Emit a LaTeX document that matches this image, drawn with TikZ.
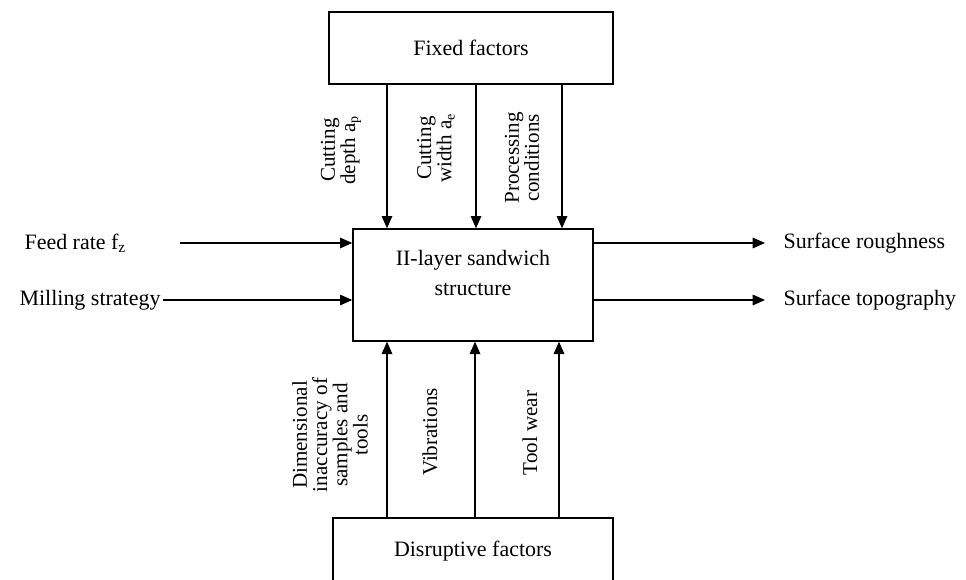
\documentclass[tikz,border=0pt]{standalone}
\usepackage{fontspec}
\setmainfont{Liberation Serif}
\usetikzlibrary{arrows.meta,positioning}

\begin{document}
\begin{tikzpicture}[
        x=0.02cm, y=-0.02cm,
        every node/.style={font=\fontsize{12.5}{17}\selectfont, align=center},
        every path/.style={line width=0.8pt},
        box/.style={draw, inner sep=0pt},
        vlabel/.style={rotate=90, font=\fontsize{12}{11.5}\selectfont},
        flow/.style={-{Triangle[length=7pt, width=6pt]}}
    ]
  \useasboundingbox (0,0) rectangle (966,579);

  % Nodes
  \node (fixed) [box, minimum width=5.68cm, minimum height=1.44cm] at (471,48) {Fixed factors};
  \node (core) [box, minimum width=4.8cm, minimum height=2.24cm, text depth=14pt] at (473,285) {II-layer sandwich\\structure};
  \node (disrupt) [box, minimum width=5.6cm, minimum height=1.32cm] at (473,551) {Disruptive factors};

  \node (feed) [anchor=west] at (18,243) {Feed rate f\textsubscript{z}};
  \node (milling) [anchor=west] at (13,300) {Milling strategy};
  \node (rough) [anchor=west] at (777,243) {Surface roughness};
  \node (topo) [anchor=west] at (777,300) {Surface topography};

  \node (depth) [vlabel] at (341,150) {Cutting\\depth a\textsubscript{p}};
  \node (width) [vlabel] at (436,148) {Cutting\\width a\textsubscript{e}};
  \node (cond) [vlabel] at (522,158) {Processing\\conditions};
  \node (inacc) [vlabel] at (330,435) {Dimensional\\inaccuracy of\\samples and\\tools};
  \node (vib) [vlabel] at (430,432) {Vibrations};
  \node (wear) [vlabel] at (530,433) {Tool wear};

  % free ends
  \coordinate (feedin) at (180,243);
  \coordinate (millin) at (163,300);
  \coordinate (roughout) at (765,243);
  \coordinate (topoout) at (765,300);

  % Connectors
  \draw[flow] (fixed.south -| 387,0) -- (core.north -| 387,0);
  \draw[flow] (fixed.south -| 476,0) -- (core.north -| 476,0);
  \draw[flow] (fixed.south -| 562,0) -- (core.north -| 562,0);

  \draw[flow] (disrupt.north -| 387,0) -- (core.south -| 387,0);
  \draw[flow] (disrupt.north -| 475,0) -- (core.south -| 475,0);
  \draw[flow] (disrupt.north -| 559,0) -- (core.south -| 559,0);

  \draw[flow] (feedin) -- (core.west |- feedin);
  \draw[flow] (millin) -- (core.west |- millin);
  \draw[flow] (core.east |- roughout) -- (roughout);
  \draw[flow] (core.east |- topoout) -- (topoout);
\end{tikzpicture}
\end{document}
